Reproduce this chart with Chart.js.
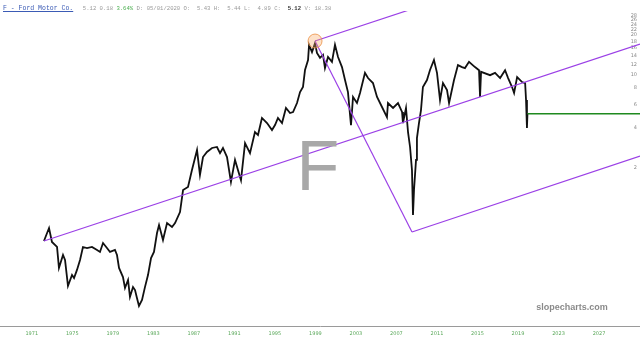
<!DOCTYPE html>
<html>
<head>
<meta charset="utf-8">
<script src="https://cdn.jsdelivr.net/npm/chart.js@4/dist/chart.umd.min.js"></script>
<style>
  body { margin: 0; background: #fff; }
  #wrap { position: relative; width: 640px; height: 342px; }
  #hdr { position: absolute; left: 3px; top: 2px; white-space: pre; font-family: "Liberation Mono", monospace; line-height: 9px; }
  #hdr .t { color: #3b5bb5; text-decoration: underline; font-size: 6.5px; }
  #hdr .v { color: #9a9a9a; font-size: 5.6px; }
  #hdr .g { color: #4caf50; }
  #hdr b { color: #333; font-weight: bold; }
</style>
</head>
<body>
<div id="wrap">
  <canvas id="chart" width="640" height="342"></canvas>
  <div id="hdr"><span class="t">F - Ford Motor Co.</span> <span class="v">5.12 0.18 <span class="g">3.64%</span> D: 05/01/2020 O:  5.43 H:  5.44 L:  4.89 C:  <b>5.12</b> V: 18.38</span></div>
</div>
<script>
// Ford Motor Co. closes (log scale)
const years = [
  1972.60, 1973.10, 1973.39, 1973.89, 1974.08, 1974.48, 1974.68, 1974.97, 1975.37, 1975.57,
  1975.86, 1976.16, 1976.45, 1976.85, 1977.34, 1977.84, 1978.13, 1978.43, 1978.82, 1979.12,
  1979.61, 1979.81, 1980.01, 1980.40, 1980.60, 1980.90, 1981.09, 1981.39, 1981.59, 1981.78,
  1981.98, 1982.28, 1982.57, 1982.87, 1983.17, 1983.46, 1983.76, 1983.96, 1984.35, 1984.75,
  1985.24, 1985.54, 1986.03, 1986.33, 1986.82, 1987.21, 1987.71, 1988.00, 1988.30, 1988.69,
  1989.19, 1989.68, 1989.98, 1990.27, 1990.67, 1991.06, 1991.46, 1991.75, 1992.05, 1992.45,
  1992.94, 1993.43, 1993.73, 1994.12, 1994.62, 1995.11, 1995.41, 1995.70, 1996.10, 1996.49,
  1996.89, 1997.19, 1997.58, 1997.88, 1998.17, 1998.37, 1998.67, 1998.77, 1999.06, 1999.36,
  1999.55, 1999.85, 2000.15, 2000.34, 2000.64, 2001.03, 2001.33, 2001.63, 2002.02, 2002.32,
  2002.61, 2002.91, 2003.11, 2003.50, 2003.80, 2004.29, 2004.59, 2005.08, 2005.48, 2005.97,
  2006.46, 2006.56, 2007.06, 2007.55, 2007.95, 2008.04, 2008.34, 2008.54, 2008.74, 2008.93,
  2009.03, 2009.13, 2009.33, 2009.42, 2009.62, 2009.82, 2010.01, 2010.41, 2010.71, 2011.10,
  2011.40, 2011.70, 2011.99, 2012.39, 2012.59, 2013.08, 2013.47, 2013.87, 2014.16, 2014.56,
  2015.15, 2015.55, 2015.65, 2015.75, 2016.64, 2017.13, 2017.63, 2018.12, 2018.42, 2018.81,
  2019.01, 2019.31, 2019.80, 2020.10, 2020.19, 2020.28, 2020.33
];
const closes = [
  0.565, 0.707, 0.555, 0.509, 0.354, 0.443, 0.406, 0.259, 0.313, 0.297,
  0.342, 0.406, 0.509, 0.5, 0.509, 0.483, 0.467, 0.545, 0.5, 0.467,
  0.483, 0.443, 0.354, 0.302, 0.25, 0.287, 0.214, 0.254, 0.241, 0.210,
  0.183, 0.203, 0.254, 0.313, 0.420, 0.467, 0.648, 0.745, 0.574, 0.771,
  0.719, 0.771, 0.933, 1.366, 1.439, 1.932, 2.732, 1.772, 2.42, 2.64,
  2.83, 2.88, 2.59, 2.83, 2.42, 1.57, 2.30, 1.93, 1.62, 3.08,
  2.59, 3.73, 3.54, 4.76, 4.36, 3.86, 4.21, 4.76, 4.36, 5.66,
  5.19, 5.28, 6.17, 7.46, 8.14, 10.93, 13.0, 16.9, 14.9, 17.4,
  14.7, 13.5, 14.2, 11.3, 13.7, 12.6, 16.9, 13.7, 11.5, 9.19,
  7.46, 4.21, 6.85, 6.17, 7.34, 10.4, 9.51, 8.72, 6.85, 5.76,
  4.84, 6.17, 5.66, 6.17, 5.28, 4.36, 5.66, 3.73, 2.88, 1.93,
  0.886, 1.37, 2.30, 3.36, 4.36, 5.46, 8.14, 9.19, 10.93, 13.0,
  10.4, 6.5, 8.72, 7.73, 6.17, 9.19, 11.9, 11.5, 11.3, 12.6,
  11.5, 10.9, 6.85, 10.6, 10.0, 10.4, 9.51, 10.9, 9.51, 8.14,
  7.34, 9.68, 8.87, 8.72, 6.5, 4.0, 5.12
];

// drawn trend lines: [start, end]
const trendX = [1972.60, 2031.44];
const trendY = [0.565, 17.15];
const upperX = [1999.36, 2011.70];
const upperY = [18.06, 36.96];
const dropX = [1999.36, 2008.93];
const dropY = [18.06, 0.66];
const lowerX = [2008.93, 2031.44];
const lowerY = [0.66, 2.46];
const lastX = [2020.33, 2031.44];
const lastY = [5.12, 5.12];
const markX = [1999.36];
const markY = [18.06];

const yearTicks = [1971, 1975, 1979, 1983, 1987, 1991, 1995, 1999, 2003, 2007, 2011, 2015, 2019, 2023, 2027];
const priceTicks = [2, 4, 6, 8, 10, 12, 14, 16, 18, 20, 22, 24, 26, 28];

const pts = (xs, ys) => xs.map((x, i) => ({ x, y: ys[i] }));
const PURPLE = '#9b40e6';

function line(xs, ys, color, width, order) {
  return {
    data: pts(xs, ys),
    borderColor: color,
    borderWidth: width,
    pointRadius: 0,
    tension: 0,
    order
  };
}

function noPad(s) {
  s.paddingLeft = 0;
  s.paddingRight = 0;
  s.paddingTop = 0;
  s.paddingBottom = 0;
}

const watermark = {
  id: 'watermark',
  afterDatasetsDraw(chart) {
    const ctx = chart.ctx;
    ctx.save();
    ctx.textAlign = 'center';
    ctx.fillStyle = '#a8a8a8';
    ctx.font = '70px "Liberation Sans"';
    ctx.fillText('F', 318, 190);
    ctx.fillStyle = '#8a8a8a';
    ctx.font = 'bold 9px "Liberation Sans"';
    ctx.fillText('slopecharts.com', 572, 310);
    ctx.restore();
  }
};

new Chart(document.getElementById('chart'), {
  type: 'line',
  data: {
    datasets: [
      line(years, closes, '#111111', 1.8, 3),
      line(trendX, trendY, PURPLE, 1.2, 1),
      line(upperX, upperY, PURPLE, 1.2, 1),
      line(dropX, dropY, PURPLE, 1.2, 1),
      line(lowerX, lowerY, PURPLE, 1.2, 1),
      line(lastX, lastY, '#1f8a1f', 1.5, 1),
      {
        type: 'scatter',
        data: pts(markX, markY),
        pointRadius: 7,
        backgroundColor: 'rgba(250,170,100,0.35)',
        borderColor: 'rgba(235,145,70,0.8)',
        borderWidth: 1,
        order: 0
      }
    ]
  },
  plugins: [watermark],
  options: {
    responsive: false,
    animation: false,
    layout: { autoPadding: false, padding: { top: 11, left: 0, right: 0, bottom: 0 } },
    plugins: { legend: { display: false }, tooltip: { enabled: false } },
    scales: {
      x: {
        type: 'linear',
        min: 1968.26,
        max: 2031.44,
        grid: { display: false, drawTicks: false },
        border: { display: true, color: '#9a9a9a', width: 1 },
        ticks: {
          padding: 5,
          labelOffset: 4,
          color: '#5aa85a',
          font: { size: 5, family: 'DejaVu Sans' },
          callback: (v) => String(v)
        },
        afterBuildTicks: (s) => { s.ticks = yearTicks.map((v) => ({ value: v })); },
        afterFit: (s) => { s.height = 16; noPad(s); }
      },
      y: {
        type: 'logarithmic',
        position: 'right',
        min: 0.1294,
        max: 30.4,
        grid: { display: false, drawTicks: false },
        border: { display: false },
        ticks: {
          mirror: true,
          autoSkip: false,
          padding: -3,
          color: '#8a8a8a',
          font: { size: 5, family: 'DejaVu Sans' },
          callback: (v) => String(v)
        },
        afterBuildTicks: (s) => { s.ticks = priceTicks.map((v) => ({ value: v })); },
        afterFit: (s) => { s.width = 0; noPad(s); }
      }
    }
  }
});
</script>
</body>
</html>
